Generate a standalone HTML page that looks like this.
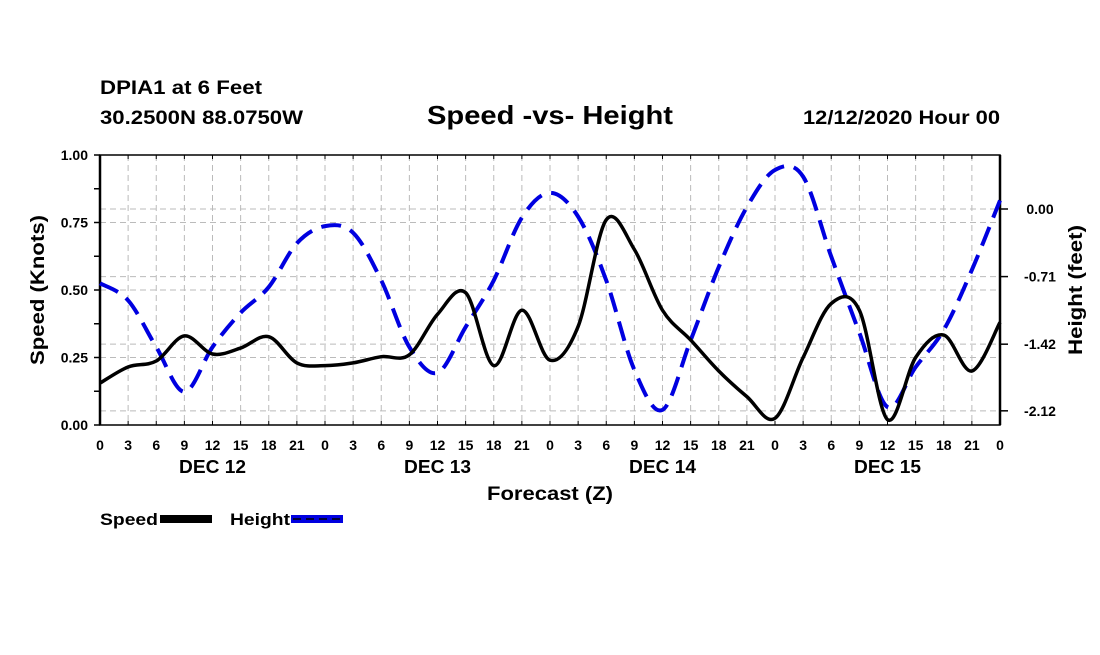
<!DOCTYPE html>
<html><head><meta charset="utf-8"><style>
body{margin:0;background:#fff;width:1100px;height:650px;overflow:hidden}
svg text{font-family:"Liberation Sans",sans-serif;font-weight:bold;fill:#000}
</style></head><body>
<svg id="chart" width="1100" height="650" viewBox="0 0 1100 650" xmlns="http://www.w3.org/2000/svg">
<text x="100" y="94" font-size="19" textLength="162" lengthAdjust="spacingAndGlyphs">DPIA1 at 6 Feet</text>
<text x="100" y="124" font-size="19" textLength="203" lengthAdjust="spacingAndGlyphs">30.2500N 88.0750W</text>
<text x="427" y="124" font-size="26" textLength="246" lengthAdjust="spacingAndGlyphs">Speed -vs- Height</text>
<text x="803" y="124" font-size="19" textLength="197" lengthAdjust="spacingAndGlyphs">12/12/2020 Hour 00</text>
<g id="grid"></g>
<g id="axes"></g>
<g id="series"></g>
<text transform="translate(44,290) rotate(-90)" font-size="19" text-anchor="middle" textLength="150" lengthAdjust="spacingAndGlyphs">Speed (Knots)</text>
<text transform="translate(1082,290) rotate(-90)" font-size="19" text-anchor="middle" textLength="130" lengthAdjust="spacingAndGlyphs">Height (feet)</text>
<text x="487" y="500" font-size="19" textLength="126" lengthAdjust="spacingAndGlyphs">Forecast (Z)</text>
<g>
<text x="100" y="525" font-size="17" textLength="58" lengthAdjust="spacingAndGlyphs">Speed</text>
<rect x="160" y="515" width="52" height="8" fill="#000"/>
<text x="230" y="525" font-size="17" textLength="60" lengthAdjust="spacingAndGlyphs">Height</text>
<rect x="291" y="515" width="52" height="8" fill="#0000e0"/>
<line x1="293" y1="519" x2="341" y2="519" stroke="#000" stroke-width="1.5" stroke-dasharray="8,5"/>
</g>
</svg>
<script>
const hours=[0,3,6,9,12,15,18,21,24,27,30,33,36,39,42,45,48,51,54,57,60,63,66,69,72,75,78,81,84,87,90,93,96];
const speed=[0.155,0.215,0.237,0.33,0.263,0.285,0.327,0.23,0.22,0.23,0.253,0.26,0.41,0.49,0.22,0.425,0.24,0.365,0.76,0.65,0.425,0.315,0.20,0.105,0.025,0.25,0.45,0.425,0.02,0.25,0.333,0.20,0.38];
const height=[-0.78,-0.96,-1.45,-1.92,-1.45,-1.09,-0.82,-0.36,-0.18,-0.25,-0.75,-1.45,-1.72,-1.24,-0.75,-0.09,0.17,-0.08,-0.75,-1.69,-2.11,-1.38,-0.61,0.02,0.41,0.34,-0.50,-1.30,-2.08,-1.66,-1.27,-0.64,0.09];
const speedTicks=[0,0.25,0.5,0.75,1.0];
const speedTickLabels=["0.00","0.25","0.50","0.75","1.00"];
const heightTicks=[0,-0.71,-1.42,-2.12];
const heightTickLabels=["0.00","-0.71","-1.42","-2.12"];
const dayLabels=["DEC 12","DEC 13","DEC 14","DEC 15"];
const L=100,R=1000,T=155,B=425;
const xS=h=>L+h*(R-L)/96;
const yS=v=>B-v*(B-T);
const yH=v=>209-v*95.2;
const NS='http://www.w3.org/2000/svg';
function mk(tag,attrs,parent){const e=document.createElementNS(NS,tag);for(const k in attrs)e.setAttribute(k,attrs[k]);parent.appendChild(e);return e;}
const grid=document.getElementById('grid'),axes=document.getElementById('axes'),series=document.getElementById('series');
for(let h=3;h<96;h+=3){const l=mk('line',{x1:xS(h),x2:xS(h),y1:T,y2:B,stroke:'#bbb','stroke-dasharray':'6,4'},grid);

}
speedTicks.slice(1,4).forEach(v=>{const l=mk('line',{x1:L,x2:R,y1:yS(v),y2:yS(v),stroke:'#bbb','stroke-dasharray':'6,4'},grid);

});
heightTicks.forEach(v=>{const l=mk('line',{x1:L,x2:R,y1:yH(v),y2:yH(v),stroke:'#bbb','stroke-dasharray':'6,4'},grid);

});
mk('rect',{x:L,y:T,width:R-L,height:B-T,fill:'none',stroke:'#000','stroke-width':1.5},axes);
mk('line',{x1:L,x2:L,y1:T,y2:B,stroke:'#000','stroke-width':2.5},axes);
mk('line',{x1:R,x2:R,y1:T,y2:B,stroke:'#000','stroke-width':2.5},axes);
for(let v=0;v<=1.0001;v+=0.125){mk('line',{x1:L-6,x2:L,y1:yS(v),y2:yS(v),stroke:'#000','stroke-width':1.5},axes);}
speedTicks.forEach((v,i)=>{const t=mk('text',{x:L-12,y:yS(v)+5,'font-size':14,'text-anchor':'end'},axes);t.textContent=speedTickLabels[i];

});
heightTicks.forEach((v,i)=>{mk('line',{x1:R,x2:R+8,y1:yH(v),y2:yH(v),stroke:'#000','stroke-width':1.5},axes);
const t=mk('text',{x:R+40,y:yH(v)+5,'font-size':14,'text-anchor':'middle'},axes);t.textContent=heightTickLabels[i];

});
for(let h=0;h<=96;h+=3){mk('line',{x1:xS(h),x2:xS(h),y1:T,y2:T+4,stroke:'#000'},axes);mk('line',{x1:xS(h),x2:xS(h),y1:B-4,y2:B,stroke:'#000'},axes);
const t=mk('text',{x:xS(h),y:450,'font-size':14,'text-anchor':'middle'},axes);t.textContent=String(h%24);

}
dayLabels.forEach((d,i)=>{const t=mk('text',{x:xS(12+24*i),y:473,'font-size':18,'text-anchor':'middle','textLength':67,'lengthAdjust':'spacingAndGlyphs'},axes);t.textContent=d;

});
function path(xs,ys){let d='M'+xs[0]+','+ys[0];for(let i=0;i<xs.length-1;i++){const x0=xs[Math.max(0,i-1)],y0=ys[Math.max(0,i-1)],x1=xs[i],y1=ys[i],x2=xs[i+1],y2=ys[i+1],x3=xs[Math.min(xs.length-1,i+2)],y3=ys[Math.min(xs.length-1,i+2)];
d+=' C'+(x1+(x2-x0)/6)+','+(y1+(y2-y0)/6)+' '+(x2-(x3-x1)/6)+','+(y2-(y3-y1)/6)+' '+x2+','+y2;}return d;}
const xs=hours.map(xS);
const hp=mk('path',{d:path(xs,height.map(yH)),fill:'none',stroke:'#0000e0','stroke-width':4,'stroke-dasharray':'20,10'},series);


const sp=mk('path',{d:path(xs,speed.map(yS)),fill:'none',stroke:'#000','stroke-width':3.5},series);


</script>
</body></html>
